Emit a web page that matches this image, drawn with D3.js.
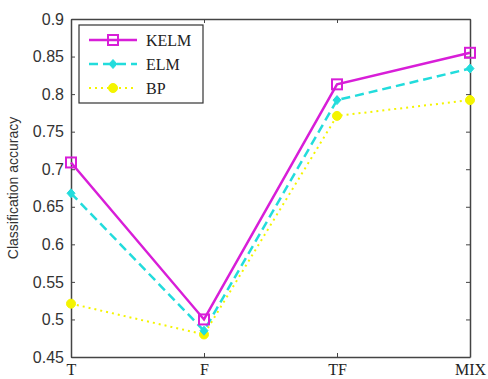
<!DOCTYPE html>
<html>
<head>
<meta charset="utf-8">
<script src="https://cdn.jsdelivr.net/npm/d3@7"></script>
<style>
  body { margin: 0; background: #fff; }
</style>
</head>
<body>
<svg id="chart" width="488" height="379"></svg>
<script>
var categories = ["T", "F", "TF", "MIX"];
var kelm = [0.709, 0.500, 0.813, 0.855];
var elm = [0.668, 0.485, 0.792, 0.834];
var bp = [0.521, 0.480, 0.771, 0.792];
var yTicks = [0.45, 0.5, 0.55, 0.6, 0.65, 0.7, 0.75, 0.8, 0.85, 0.9];

var SERIF = "'Liberation Serif', 'Times New Roman', Times, serif",
    NARROW = "'Liberation Sans Narrow', 'Liberation Sans', sans-serif",
    SANS = "'Liberation Sans', Arial, sans-serif";

var series = [
    { name: "KELM", values: kelm, color: "#d81ed8", dash: null, marker: "square" },
    { name: "ELM", values: elm, color: "#22dcdc", dash: "9,5", marker: "diamond" },
    { name: "BP", values: bp, color: "#f4f400", dash: "2,4", marker: "circle" }
];

var svg = d3.select("#chart"),
    margin = { left: 71, right: 18, top: 19, bottom: 22 },
    width = +svg.attr("width") - margin.left - margin.right,
    height = +svg.attr("height") - margin.top - margin.bottom;

var x = d3.scalePoint().domain(categories).range([0, width]);
var y = d3.scaleLinear().domain([0.45, 0.9]).range([height, 0]);

var g = svg.append("g").attr("transform", "translate(" + margin.left + "," + margin.top + ")");

// box axes, ticks pointing inward like matlab
var fmt = function (d) { return String(+d.toFixed(2)); };
var yAxis = g.append("g").attr("class", "axis")
    .call(d3.axisLeft(y).tickValues(yTicks).tickSizeInner(-4).tickSizeOuter(0).tickPadding(7).tickFormat(fmt));
g.append("g").attr("class", "axis").attr("transform", "translate(" + width + ",0)")
    .call(d3.axisRight(y).tickValues(yTicks).tickSizeInner(-4).tickSizeOuter(0).tickFormat(""));
var xAxis = g.append("g").attr("class", "axis").attr("transform", "translate(0," + height + ")")
    .call(d3.axisBottom(x).tickSizeInner(-4).tickSizeOuter(0).tickPadding(7));
g.append("g").attr("class", "axis")
    .call(d3.axisTop(x).tickSizeInner(-4).tickSizeOuter(0).tickFormat(""));

g.selectAll(".axis path").attr("stroke", "#444").attr("stroke-width", 1.5);
g.selectAll(".axis line").attr("stroke", "#444");
yAxis.attr("font-family", null);
xAxis.attr("font-family", null);
yAxis.selectAll("text").style("font-family", NARROW).style("font-size", "16px").attr("fill", "#333");
xAxis.selectAll("text").style("font-family", SERIF).style("font-size", "16px").attr("fill", "#222");

svg.append("text")
    .attr("transform", "translate(18," + (margin.top + height / 2) + ") rotate(-90)")
    .attr("text-anchor", "middle")
    .style("font-family", SANS)
    .style("font-size", "14px")
    .attr("fill", "#333")
    .text("Classification accuracy");

function drawMarker(sel, s) {
    if (s.marker === "square") {
        sel.append("rect").attr("x", -5).attr("y", -5).attr("width", 10).attr("height", 10)
            .attr("fill", "none").attr("stroke", s.color).attr("stroke-width", 2);
    } else if (s.marker === "diamond") {
        sel.append("path").attr("d", "M0,-4.5L4,0L0,4.5L-4,0Z").attr("fill", s.color).attr("stroke", s.color);
    } else {
        sel.append("circle").attr("r", 4.5).attr("fill", s.color)
            .attr("stroke", s.color).attr("stroke-width", 1);
    }
}

var line = d3.line()
    .x(function (d, i) { return x(categories[i]); })
    .y(function (d) { return y(d); });

// draw BP first so KELM sits on top
series.slice().reverse().forEach(function (s) {
    g.append("path")
        .datum(s.values)
        .attr("d", line)
        .attr("fill", "none")
        .attr("stroke", s.color)
        .attr("stroke-width", s.marker === "circle" ? 2 : 2.5)
        .attr("stroke-dasharray", s.dash);
    s.values.forEach(function (v, i) {
        var m = g.append("g").attr("transform", "translate(" + x(categories[i]) + "," + y(v) + ")");
        drawMarker(m, s);
    });
});

// legend
var legend = g.append("g").attr("transform", "translate(8,6)");
legend.append("rect").attr("width", 124).attr("height", 78)
    .attr("fill", "#fff").attr("stroke", "#333").attr("stroke-width", 1.2);
series.forEach(function (s, i) {
    var row = legend.append("g").attr("transform", "translate(0," + (15 + i * 24) + ")");
    row.append("line").attr("x1", 10).attr("x2", 58).attr("y1", 0).attr("y2", 0)
        .attr("stroke", s.color).attr("stroke-width", s.marker === "circle" ? 2 : 2.5)
        .attr("stroke-dasharray", s.dash);
    var m = row.append("g").attr("transform", "translate(34,0)");
    drawMarker(m, s);
    row.append("text").attr("x", 67).attr("y", 6)
        .style("font-family", SERIF).style("font-size", "16px")
        .attr("fill", "#222").text(s.name);
});
</script>
</body>
</html>
